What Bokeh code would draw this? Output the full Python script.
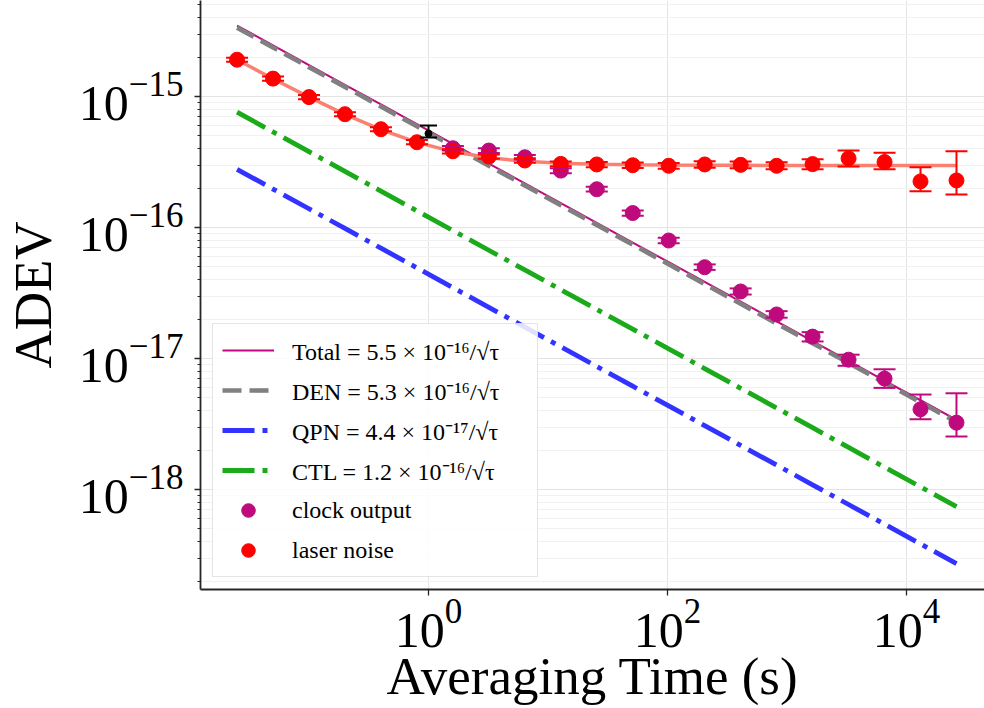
from bokeh.plotting import figure
from bokeh.models import (Range1d, FixedTicker, Whisker, TeeHead, ColumnDataSource,
                          Legend, LegendItem, LogTickFormatter)
from bokeh.embed import file_html
from bokeh.resources import INLINE

# ---------------- data ----------------
tau = [0.025, 0.05, 0.1, 0.2, 0.4, 0.8, 1.6, 3.2, 6.4, 12.8, 25.6, 51.2, 102.4,
       204.8, 409.6, 819.2, 1638.4, 3276.8, 6553.6, 13107.2, 26214.4]

laser = [1.91e-15, 1.37e-15, 9.9e-16, 7.33e-16, 5.63e-16, 4.48e-16, 3.82e-16,
         3.48e-16, 3.25e-16, 3.06e-16, 3.03e-16, 2.99e-16, 2.96e-16, 3.03e-16,
         3.01e-16, 2.96e-16, 3.05e-16, 3.37e-16, 3.16e-16, 2.25e-16, 2.29e-16]
laser_lo = [1.84e-15, 1.32e-15, 9.55e-16, 7.07e-16, 5.43e-16, 4.32e-16, 3.68e-16,
            3.35e-16, 3.12e-16, 2.93e-16, 2.89e-16, 2.85e-16, 2.81e-16, 2.86e-16,
            2.84e-16, 2.78e-16, 2.79e-16, 2.92e-16, 2.79e-16, 1.89e-16, 1.79e-16]
laser_hi = [1.98e-15, 1.42e-15, 1.025e-15, 7.6e-16, 5.84e-16, 4.65e-16, 3.96e-16,
            3.61e-16, 3.38e-16, 3.19e-16, 3.17e-16, 3.13e-16, 3.11e-16, 3.2e-16,
            3.19e-16, 3.15e-16, 3.32e-16, 3.87e-16, 3.72e-16, 2.88e-16, 3.82e-16]
laser_fit = [1.91e-15, 1.367e-15, 9.89e-16, 7.31e-16, 5.58e-16, 4.47e-16, 3.80e-16,
             3.41e-16, 3.20e-16, 3.09e-16, 3.04e-16, 3.01e-16, 2.995e-16, 2.987e-16,
             2.983e-16, 2.98e-16, 2.98e-16, 2.98e-16, 2.98e-16, 2.98e-16, 2.98e-16]

clock_tau = [1.6, 3.2, 6.4, 12.8, 25.6, 51.2, 102.4, 204.8, 409.6, 819.2,
             1638.4, 3276.8, 6553.6, 13107.2, 26214.4]
clock = [4.03e-16, 3.87e-16, 3.44e-16, 2.72e-16, 1.96e-16, 1.29e-16, 7.96e-17,
         4.98e-17, 3.25e-17, 2.17e-17, 1.47e-17, 9.8e-18, 7.03e-18, 4.10e-18, 3.24e-18]
clock_lo = [3.87e-16, 3.71e-16, 3.3e-16, 2.6e-16, 1.88e-16, 1.23e-16, 7.6e-17,
            4.75e-17, 3.08e-17, 2.05e-17, 1.35e-17, 8.8e-18, 5.97e-18, 3.44e-18, 2.54e-18]
clock_hi = [4.2e-16, 4.03e-16, 3.58e-16, 2.84e-16, 2.05e-16, 1.35e-16, 8.35e-17,
            5.23e-17, 3.43e-17, 2.3e-17, 1.59e-17, 1.07e-17, 8.28e-18, 5.31e-18, 5.43e-18]

single_tau = [1.0]
single_val = [5.22e-16]
single_lo = [4.87e-16]
single_hi = [6.01e-16]

# white-noise model coefficients (ADEV = c / sqrt(tau))
coef_total = 5.5e-16
coef_den = 5.3e-16
coef_qpn = 4.4e-17
coef_ctl = 1.2e-16

labels = ["Total = 5.5 × 10⁻¹⁶/√τ", "DEN = 5.3 × 10⁻¹⁶/√τ",
          "QPN = 4.4 × 10⁻¹⁷/√τ", "CTL = 1.2 × 10⁻¹⁶/√τ",
          "clock output", "laser noise"]

# ---------------- figure ----------------
FONT = "Liberation Serif"
PURPLE = "#BF0A7D"
RED = "#FF0000"
SALMON = "#FA8072"
GRAY = "#808080"
BLUE = "#3333FF"
GREEN = "#1AAA1A"

p = figure(width=984, height=708, x_axis_type="log", y_axis_type="log",
           x_range=Range1d(10 ** -1.908, 10 ** 4.653),
           y_range=Range1d(10 ** -18.763, 10 ** -14.267),
           output_backend="svg", toolbar_location=None,
           min_border_left=200, min_border_right=0, min_border_top=0,
           min_border_bottom=119)
p.outline_line_color = None
p.background_fill_color = "white"

# ticks
xt = FixedTicker(ticks=[1, 100, 10000], minor_ticks=[])
ymin = [m * 10.0 ** e for e in range(-19, -14) for m in range(2, 10)]
yt = FixedTicker(ticks=[1e-18, 1e-17, 1e-16, 1e-15], minor_ticks=ymin)
p.xaxis.ticker = xt
p.xgrid.ticker = xt
p.yaxis.ticker = yt
p.ygrid.ticker = yt
p.xaxis.formatter = LogTickFormatter()
p.yaxis.formatter = LogTickFormatter()

p.xgrid.grid_line_color = "#e3e3e3"
p.ygrid.grid_line_color = "#e3e3e3"
p.ygrid.minor_grid_line_color = "#f1f1f1"
p.xgrid.minor_grid_line_color = None

for ax in (p.xaxis[0], p.yaxis[0]):
    ax.axis_line_color = "#262626"
    ax.axis_line_width = 1.8
    ax.major_tick_line_color = "#262626"
    ax.major_tick_line_width = 1.3
    ax.minor_tick_line_color = "#262626"
    ax.minor_tick_line_width = 1.0
    ax.major_tick_out = 6
    ax.major_tick_in = 0
    ax.minor_tick_out = 3
    ax.minor_tick_in = 0
    ax.major_label_text_font = FONT
    ax.major_label_text_font_size = "50px"
    ax.major_label_text_color = "black"
    ax.axis_label_text_font = FONT
    ax.axis_label_text_font_size = "53px"
    ax.axis_label_text_font_style = "normal"
    ax.axis_label_text_color = "black"

p.xaxis.minor_tick_line_color = None
p.xaxis.axis_label = "Averaging Time (s)"
p.yaxis.axis_label = "ADEV"
p.xaxis.major_label_standoff = 4
p.yaxis.major_label_standoff = 11
p.xaxis.axis_label_standoff = -3
p.yaxis.axis_label_standoff = 14

# model lines
def model(c):
    return [c / t ** 0.5 for t in tau]

r_total = p.line(tau, model(coef_total), line_color=PURPLE, line_width=2)
r_den = p.line(tau, model(coef_den), line_color=GRAY, line_width=4.6, line_dash="19 8")
r_qpn = p.line(tau, model(coef_qpn), line_color=BLUE, line_width=4.8, line_dash="32 8 5 8")
r_ctl = p.line(tau, model(coef_ctl), line_color=GREEN, line_width=4.8, line_dash="32 8 5 8")

# laser fit line
p.line(tau, laser_fit, line_color=SALMON, line_width=3.5)

# clock output
csrc = ColumnDataSource(dict(x=clock_tau, y=clock, lo=clock_lo, hi=clock_hi))
p.add_layout(Whisker(base="x", lower="lo", upper="hi", source=csrc,
                     line_color=PURPLE, line_width=2, level="glyph",
                     upper_head=TeeHead(size=22, line_color=PURPLE, line_width=2),
                     lower_head=TeeHead(size=22, line_color=PURPLE, line_width=2)))
r_clock = p.scatter("x", "y", source=csrc, size=15, fill_color=PURPLE, line_color=PURPLE)

# laser noise
lsrc = ColumnDataSource(dict(x=tau, y=laser, lo=laser_lo, hi=laser_hi))
p.add_layout(Whisker(base="x", lower="lo", upper="hi", source=lsrc,
                     line_color=RED, line_width=2, level="glyph",
                     upper_head=TeeHead(size=22, line_color=RED, line_width=2),
                     lower_head=TeeHead(size=22, line_color=RED, line_width=2)))
r_laser = p.scatter("x", "y", source=lsrc, size=15, fill_color=RED, line_color=RED)

# single black point
ssrc = ColumnDataSource(dict(x=single_tau, y=single_val, lo=single_lo, hi=single_hi))
p.add_layout(Whisker(base="x", lower="lo", upper="hi", source=ssrc,
                     line_color="black", line_width=2, level="glyph",
                     upper_head=TeeHead(size=17, line_color="black", line_width=2),
                     lower_head=TeeHead(size=17, line_color="black", line_width=2)))
p.scatter("x", "y", source=ssrc, size=7, fill_color="black", line_color="black")

legend = Legend(items=[
    LegendItem(label=labels[0], renderers=[r_total]),
    LegendItem(label=labels[1], renderers=[r_den]),
    LegendItem(label=labels[2], renderers=[r_qpn]),
    LegendItem(label=labels[3], renderers=[r_ctl]),
    LegendItem(label=labels[4], renderers=[r_clock]),
    LegendItem(label=labels[5], renderers=[r_laser]),
], location="bottom_left")
legend.label_text_font = FONT
legend.label_text_font_size = "24px"
legend.label_text_color = "black"
legend.glyph_width = 52
legend.glyph_height = 34
legend.label_height = 34
legend.label_width = 236
legend.spacing = 6
legend.padding = 9
legend.margin = 12
legend.label_standoff = 18
legend.border_line_color = "#cccccc"
legend.border_line_width = 1
legend.background_fill_color = "white"
legend.background_fill_alpha = 0.85
p.add_layout(legend)

open("out.html", "w").write(file_html(p, INLINE))
